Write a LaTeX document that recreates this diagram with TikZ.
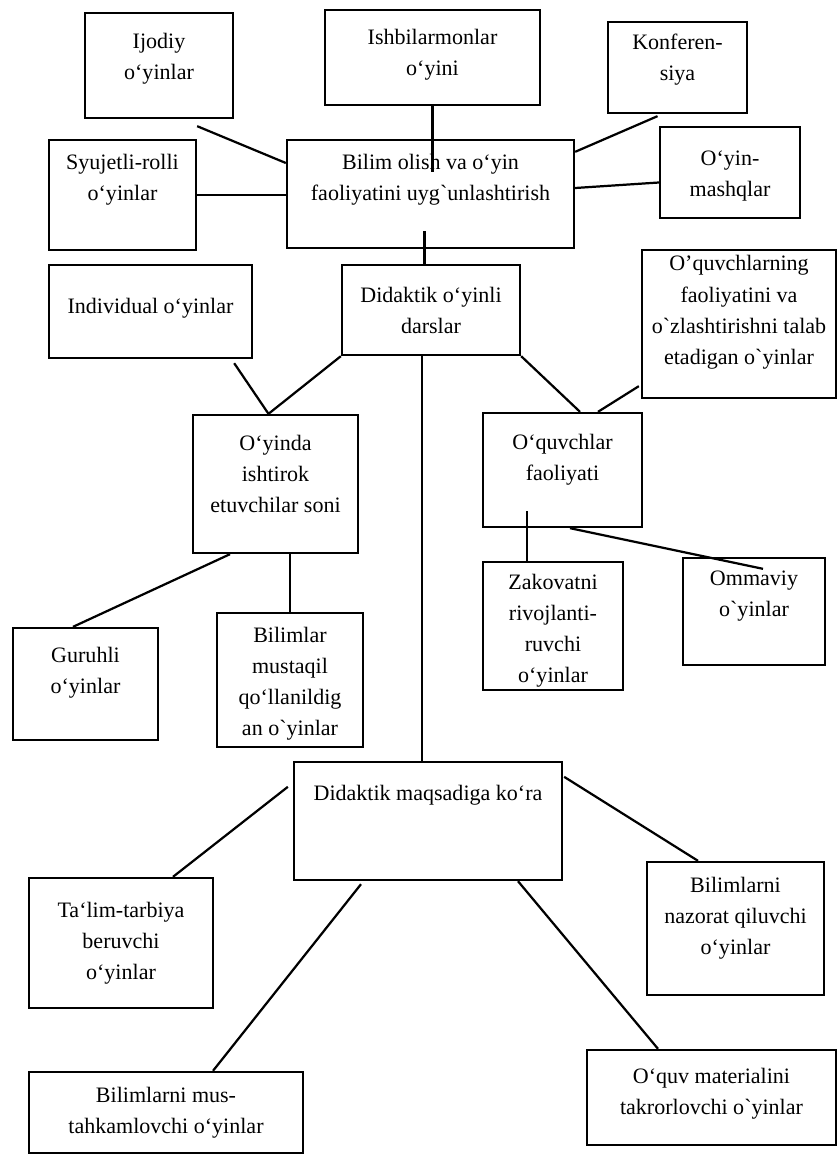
\documentclass[tikz,border=0pt]{standalone}
\usepackage{fontspec}
\setmainfont{Liberation Serif}
\usetikzlibrary{calc}
\tikzset{
  box/.style 2 args={draw,line width=2pt,minimum width=#1*0.3mm,minimum height=#2*0.3mm,inner sep=0pt},
  txt/.style={align=center,inner sep=0pt,font=\fontsize{18.8pt}{26.5pt}\selectfont},
  link/.style={line width=1.9pt},
}
\begin{document}
\begin{tikzpicture}[x=0.3mm,y=-0.3mm]
\useasboundingbox (0,0) rectangle (838,1159);
% --- upper hub ---
\node[box={148}{105},label={[txt,yshift=6pt]center:{Ijodiy\\o‘yinlar}}] (ijod) at (159,65.5) {};
\node[box={215}{95},label={[txt,yshift=2pt]center:{Ishbilarmonlar\\o‘yini}}] (ishb) at (432.5,57.5) {};
\node[box={139}{91},label={[txt,yshift=7pt]center:{Konferen-\\siya}}] (konf) at (677.5,67.5) {};
\node[box={147}{110},label={[txt,yshift=13pt]center:{Syujetli-rolli\\o‘yinlar}}] (syuj) at (122.5,195) {};
\node[box={287}{108},label={[txt,yshift=12pt]center:{Bilim olish va o‘yin\\faoliyatini uygˋunlashtirish}}] (bilim) at (430.5,194) {};
\node[box={140}{91},label={[txt,yshift=-3pt]center:{O‘yin-\\mashqlar}}] (mashq) at (730,172.5) {};

% --- middle ---
\node[box={203}{93},label={[txt,yshift=3pt]center:{Individual o‘yinlar}}] (indiv) at (150.5,311.5) {};
\node[box={178}{90},label={[txt]center:{Didaktik o‘yinli\\darslar}}] (darsl) at (431,310) {};
\node[box={194}{148},label={[txt,yshift=10pt]center:{O’quvchlarning\\faoliyatini va\\oˋzlashtirishni talab\\etadigan oˋyinlar}}] (talab) at (739,324) {};
\node[box={165}{138},label={[txt,yshift=8.5pt]center:{O‘yinda\\ishtirok\\etuvchilar soni}}] (ishtir) at (275.5,484) {};
\node[box={159}{114},label={[txt,yshift=8.5pt]center:{O‘quvchlar\\faoliyati}}] (faol) at (562.5,470) {};
\node[box={140}{128},label={[txt,yshift=-4pt]center:{Zakovatni\\rivojlanti-\\ruvchi\\o‘yinlar}}] (zakov) at (553,626) {};
\node[box={142}{107},label={[txt,yshift=13.5pt]center:{Ommaviy\\oˋyinlar}}] (ommav) at (754,611.5) {};
\node[box={145}{112},label={[txt,yshift=9.5pt]center:{Guruhli\\o‘yinlar}}] (guruh) at (85.5,684) {};
\node[box={146}{134},label={[txt,yshift=-3pt]center:{Bilimlar\\mustaqil\\qo‘llanildig\\an oˋyinlar}}] (mustaq) at (290,680) {};

% --- lower hub ---
\node[box={268}{118},label={[txt,yshift=22pt]center:{Didaktik maqsadiga ko‘ra}}] (maqsad) at (428,821) {};
\node[box={184}{130},label={[txt]center:{Ta‘lim-tarbiya\\beruvchi\\o‘yinlar}}] (talim) at (121,943) {};
\node[box={274}{81},label={[txt]center:{Bilimlarni mus-\\tahkamlovchi o‘yinlar}}] (mustah) at (166,1112.5) {};
\node[box={177}{133},label={[txt,yshift=8.5pt]center:{Bilimlarni\\nazorat qiluvchi\\o‘yinlar}}] (nazor) at (735.5,928.5) {};
\node[box={249}{95},label={[txt,yshift=3pt]center:{O‘quv materialini\\takrorlovchi oˋyinlar}}] (takror) at (711.5,1097.5) {};

% links of the upper hub
\draw[link] ($(ijod.south east)+(-37,7)$) -- ($(bilim.west)+(0,-31)$);
\draw[link] (syuj.east) -- (syuj.east -| bilim.west);
\coordinate (ishbend) at ($(bilim.north)!0.3!(bilim.south)$);
\draw[link] (ishb.south) -- (ishb.south |- ishbend);
\draw[link] ($(konf.south)+(-20,2)$) -- ($(bilim.north east)+(0,13)$);
\draw[link] ($(bilim.east)+(0,-6)$) -- ($(mashq.west)+(0,10)$);
\coordinate (bilimend) at ($(bilim.south)+(-6,-18)$);
\draw[link] (bilimend) -- (bilimend |- darsl.north);

% links of the middle
\coordinate (ishtop) at ($(ishtir.north)+(-7,0)$);
\draw[link] ($(indiv.south east)+(-19,4)$) -- (ishtop);
\draw[link] (darsl.south west) -- (ishtop);
\draw[link] (darsl.south east) -- ($(faol.north)+(17.5,0)$);
\draw[link] ($(talab.south west)+(-2,-13)$) -- ($(faol.north)+(35.5,0)$);
\coordinate (trunk) at ($(darsl.south)+(-9,0)$);
\draw[link] (trunk) -- (trunk |- maqsad.north);
\coordinate (zakend) at ($(faol.south west)!0.28!(faol.south east)+(0,-17)$);
\draw[link] (zakend) -- (zakend |- zakov.north);
\draw[link] ($(faol.south)+(7.5,0)$) -- ($(ommav.north)+(9,12)$);
\draw[link] ($(ishtir.south)+(-45.5,0)$) -- ($(guruh.north)+(-12.5,0)$);
\draw[link] (mustaq.north |- ishtir.south) -- (mustaq.north);

% links of the lower hub
\draw[link] ($(maqsad.north west)+(-5,26)$) -- ($(talim.north)+(52,0)$);
\draw[link] ($(maqsad.south)+(-67,3)$) -- ($(mustah.north)+(47,0)$);
\draw[link] ($(maqsad.north east)+(1,16)$) -- ($(nazor.north)+(-37.5,0)$);
\draw[link] ($(maqsad.south)+(90,0)$) -- ($(takror.north)+(-53.5,0)$);
\end{tikzpicture}
\end{document}
